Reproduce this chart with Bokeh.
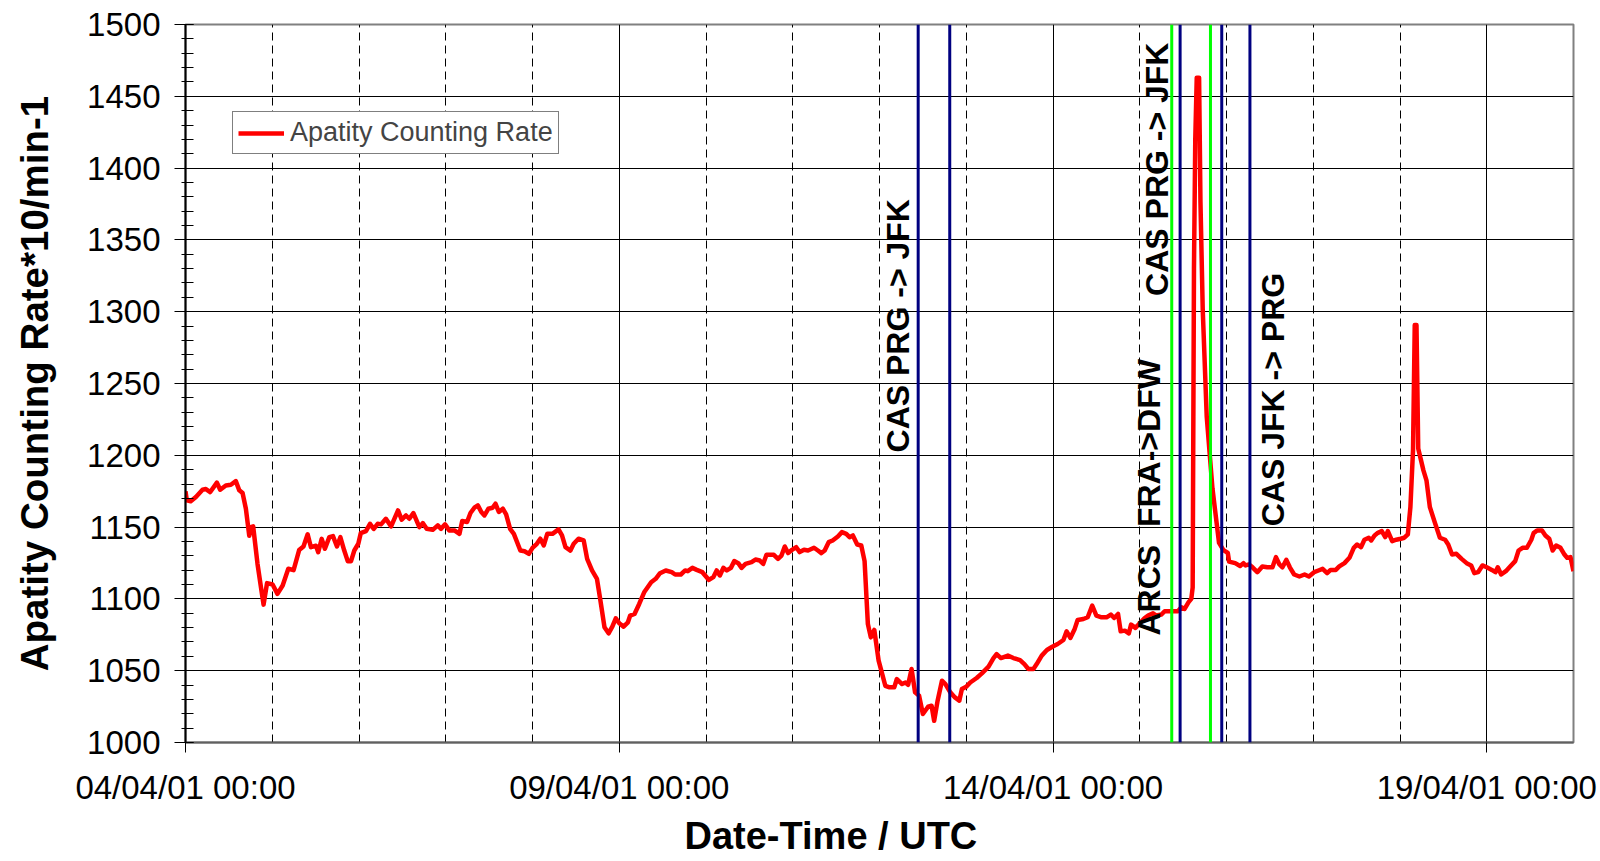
import pandas as pd
from math import pi
from bokeh.plotting import figure
from bokeh.models import (FixedTicker, DatetimeTickFormatter, Span, Title,
                          Legend, LegendItem, ColumnDataSource)
from bokeh.core.properties import value
from bokeh.embed import file_html
from bokeh.resources import INLINE

# ---------------- data ----------------
start_time = "2001-04-04 00:00"
end_time = "2001-04-20 00:00"

# days since 04/04/01 00:00 UTC
rate_days = [
    0.0, 0.015, 0.06, 0.12, 0.196, 0.235, 0.285, 0.362, 0.4, 0.465, 0.523, 0.58, 0.62, 0.658,
    0.696, 0.735, 0.754, 0.78, 0.83, 0.87, 0.9, 0.94, 1.004, 1.06, 1.12, 1.185, 1.246, 1.31,
    1.36, 1.408, 1.446, 1.504, 1.53, 1.57, 1.607, 1.658, 1.70, 1.746, 1.785, 1.83, 1.87, 1.908,
    1.946, 1.992, 2.02, 2.08, 2.127, 2.17, 2.215, 2.254, 2.31, 2.37, 2.45, 2.492, 2.542, 2.58,
    2.627, 2.696, 2.735, 2.78, 2.85, 2.908, 2.946, 2.992, 3.04, 3.1, 3.158, 3.19, 3.246, 3.285,
    3.33, 3.37, 3.41, 3.446, 3.492, 3.54, 3.573, 3.612, 3.658, 3.696, 3.742, 3.785, 3.86, 3.908,
    3.958, 4.0, 4.05, 4.09, 4.13, 4.17, 4.23, 4.30, 4.34, 4.38, 4.437, 4.475, 4.53, 4.59, 4.63,
    4.686, 4.743, 4.78, 4.83, 4.877, 4.92, 4.96, 5.0, 5.05, 5.1, 5.126, 5.176, 5.23, 5.287,
    5.368, 5.42, 5.47, 5.536, 5.605, 5.644, 5.71, 5.76, 5.79, 5.843, 5.893, 5.958, 5.99, 6.034,
    6.084, 6.123, 6.16, 6.2, 6.24, 6.287, 6.326, 6.372, 6.41, 6.456, 6.525, 6.57, 6.62, 6.66,
    6.697, 6.782, 6.83, 6.87, 6.908, 6.946, 6.992, 7.04, 7.08, 7.13, 7.176, 7.245, 7.29, 7.33,
    7.368, 7.414, 7.46, 7.52, 7.567, 7.617, 7.655, 7.693, 7.743, 7.79, 7.828, 7.866, 7.9, 7.94,
    7.99, 8.03, 8.067, 8.116, 8.17, 8.2, 8.26, 8.3, 8.33, 8.37, 8.41, 8.457, 8.5, 8.56, 8.6,
    8.63, 8.67, 8.72, 8.76, 8.816, 8.87, 8.92, 8.95, 9.0, 9.046, 9.12, 9.18, 9.257, 9.314, 9.35,
    9.4, 9.48, 9.544, 9.62, 9.67, 9.716, 9.774, 9.812, 9.87, 9.93, 9.992, 10.054, 10.12, 10.157,
    10.2, 10.25, 10.284, 10.35, 10.4, 10.452, 10.5, 10.56, 10.617, 10.667, 10.705, 10.75, 10.78,
    10.828, 10.874, 10.9, 10.95, 11.0, 11.057, 11.096, 11.153, 11.19, 11.25, 11.287, 11.364,
    11.44, 11.48, 11.517, 11.563, 11.594, 11.61, 11.625, 11.64, 11.657, 11.684, 11.7, 11.726,
    11.772, 11.838, 11.888, 11.914, 11.965, 12.015, 12.03, 12.1, 12.157, 12.196, 12.22, 12.26,
    12.3, 12.355, 12.413, 12.47, 12.53, 12.57, 12.61, 12.645, 12.69, 12.73, 12.78, 12.84, 12.9,
    12.95, 13.01, 13.06, 13.108, 13.16, 13.2, 13.26, 13.3, 13.36, 13.417, 13.467, 13.506, 13.55,
    13.59, 13.64, 13.668, 13.707, 13.745, 13.79, 13.83, 13.86, 13.91, 13.957, 14.008, 14.05,
    14.09, 14.12, 14.15, 14.17, 14.19, 14.21, 14.27, 14.305, 14.344, 14.4, 14.46, 14.52, 14.556,
    14.6, 14.65, 14.71, 14.768, 14.82, 14.857, 14.9, 14.95, 15.0, 15.058, 15.1, 15.127, 15.166,
    15.22, 15.27, 15.328, 15.367, 15.413, 15.463, 15.514, 15.54, 15.58, 15.637, 15.676, 15.72,
    15.76, 15.8, 15.85, 15.896, 15.927, 15.965, 16.0,
]
rate_values = [
    1175, 1168.6, 1168, 1171, 1176, 1176.5, 1174.4, 1181, 1176, 1179, 1179.5, 1182, 1175.6, 1173.7,
    1162.8, 1144, 1150, 1150.5, 1124.4, 1108, 1096, 1111, 1110, 1103.5, 1109.3, 1121, 1120, 1134,
    1136.5, 1145, 1136, 1137, 1132.5, 1141.8, 1134.9, 1143, 1143.7, 1136.5, 1143, 1133.7, 1126.3, 1126.3,
    1133.7, 1138.4, 1145.8, 1147.2, 1152.3, 1148.8, 1152.3, 1151.9, 1155.8, 1150.5, 1161.6, 1155.1, 1158.1, 1155.8,
    1159.8, 1150, 1152.8, 1148.8, 1148.1, 1151.2, 1148.8, 1151.9, 1147.7, 1147.7, 1145.3, 1154.2, 1153.5, 1159.8,
    1163.5, 1165.1, 1160.5, 1158.1, 1162.8, 1163.5, 1166.3, 1160.5, 1162.8, 1158.8, 1148.8, 1145.3, 1133.7, 1133.2,
    1131.4, 1135.5, 1138.4, 1141.9, 1137.2, 1145.3, 1145.3, 1148.4, 1144.2, 1136, 1133.7, 1138.4, 1141.9, 1140.7, 1127.9,
    1119.8, 1114, 1100, 1080.2, 1076, 1080.7, 1086.5, 1083, 1080.7, 1083.7, 1088.4, 1089.5, 1096.5, 1104.6,
    1111.6, 1114, 1117.9, 1119.8, 1118.6, 1117, 1117, 1119.8, 1119.3, 1121.6, 1120.2, 1118.6, 1116.3, 1113.2,
    1115.1, 1119.8, 1116.3, 1121.6, 1119.8, 1121.6, 1126.3, 1124.9, 1121.6, 1124.4, 1125.6, 1127.4, 1126.7, 1124.4,
    1130.7, 1130.7, 1127.9, 1130.2, 1136.5, 1131.9, 1134.2, 1136, 1132.6, 1134.2, 1133.7, 1135.6, 1133.7, 1131.9,
    1133.7, 1139.5, 1140.7, 1143.5, 1146.5, 1145.3, 1143, 1144.2, 1137.9, 1137.2, 1126.3, 1082.5, 1073.2, 1078.4,
    1057, 1048, 1039.5, 1038.4, 1038.4, 1044.2, 1040.7, 1041.8, 1040.2, 1051.2, 1034.9, 1032.5, 1019.8, 1024.9, 1025.6,
    1015.1, 1029.1, 1043, 1040.7, 1034.9, 1031.4, 1029.1, 1037.2, 1038.8, 1041.8, 1044.9, 1048.1, 1052.8, 1058.8, 1061.6,
    1058.8, 1060.5, 1058.8, 1057.4, 1054.6, 1051.2, 1051.2, 1054.6, 1060.5, 1064.4, 1066.7, 1068.6, 1071.4, 1077.4,
    1072.8, 1079.1, 1085.3, 1086, 1087.2, 1095.3, 1088.4, 1087.2, 1087.2, 1089.1, 1086.7, 1089.5, 1077.4,
    1077.9, 1076, 1082.1, 1079.8, 1083, 1086.7, 1088.4, 1090, 1088.4, 1089.1, 1091.4, 1091.4,
    1091.4, 1094.2, 1093, 1097.7, 1100, 1108, 1330, 1420, 1463, 1463, 1376, 1301.5,
    1227, 1177, 1152, 1139, 1134, 1132, 1126, 1124.9, 1122.9, 1124.9, 1123.3, 1124,
    1122, 1118.6, 1122.6, 1122, 1122, 1129.1, 1124, 1122, 1127.2, 1122, 1117, 1115.6, 1117,
    1115.6, 1118.6, 1119.8, 1120.9, 1117.9, 1120.2, 1120.2, 1122.6, 1124.9, 1128.6, 1135.6, 1137.9, 1136,
    1141.2, 1142.6, 1140.7, 1144.2, 1146, 1147.2, 1143, 1147.2, 1140.2, 1141.2, 1141.9, 1142.6,
    1144.9, 1164, 1203.5, 1290.7, 1290.7, 1204.7, 1189.5, 1182.6, 1164, 1153.5, 1142.6, 1141.2, 1137.9,
    1130.9, 1131.4, 1127.9, 1124.9, 1123.3, 1117.9, 1118.6, 1123.3, 1122, 1120.2, 1118.6, 1122, 1117,
    1119.3, 1122.6, 1126.3, 1133.7, 1135.6, 1135.6, 1141.2, 1145.8, 1147.7, 1147.7, 1144.2, 1141.9,
    1133.7, 1137.2, 1135.6, 1130.9, 1128.6, 1129.1, 1119.3,
]

x_tick_dates = ["2001-04-04", "2001-04-09", "2001-04-14", "2001-04-19"]
x_tick_format = "%d/%m/%y %H:%M"
y_ticks = [1000, 1050, 1100, 1150, 1200, 1250, 1300, 1350, 1400, 1450, 1500]

flight_lines = ["2001-04-12 10:42", "2001-04-12 19:26", "2001-04-15 11:10",
                "2001-04-15 22:41", "2001-04-16 06:29"]
arcs_lines = ["2001-04-15 08:51", "2001-04-15 19:34"]

note_texts = ["CAS PRG -> JFK", "ARCS \u00a0FRA->DFW", "CAS PRG -> JFK", "CAS JFK -> PRG"]
note_times = ["2001-04-12 05:03", "2001-04-15 02:33", "2001-04-15 04:44", "2001-04-16 12:52"]
note_values = [1202, 1074.5, 1311, 1150.6]

series_label = "Apatity Counting Rate"
x_title = "Date-Time / UTC"
y_title = "Apatity Counting Rate*10/min-1"


def ms(s):
    return pd.Timestamp(s).value / 1e6


t0 = pd.Timestamp(start_time)
times = [t0 + pd.Timedelta(days=d) for d in rate_days]
src = ColumnDataSource(dict(t=times, v=rate_values))

major_ms = [ms(d) for d in x_tick_dates]
n_days = int(round((ms(end_time) - ms(start_time)) / 86400000))
minor_ms = [ms(start_time) + k * 86400000 for k in range(n_days + 1)]
minor_ms = [m for m in minor_ms if m not in major_ms]
y_minor = list(range(y_ticks[0], y_ticks[-1] + 1, 10))

FONT = "Liberation Sans"

p = figure(width=1600, height=861, x_axis_type="datetime",
           x_range=(ms(start_time), ms(end_time)), y_range=(y_ticks[0], y_ticks[-1]),
           output_backend="svg", toolbar_location=None,
           min_border_left=185, min_border_right=27, min_border_top=24, min_border_bottom=119)
p.background_fill_color = "white"
p.border_fill_color = "white"
p.outline_line_color = "#808080"
p.outline_line_width = 2

# x axis
xa = p.xaxis[0]
xa.ticker = FixedTicker(ticks=major_ms, minor_ticks=minor_ms)
xa.formatter = DatetimeTickFormatter(
    microseconds=x_tick_format, milliseconds=x_tick_format, seconds=x_tick_format,
    minsec=x_tick_format, minutes=x_tick_format, hourmin=x_tick_format, hours=x_tick_format,
    days=x_tick_format, months=x_tick_format, years=x_tick_format)
xa.major_label_text_font = FONT
xa.major_label_text_font_size = "33px"
xa.major_label_text_color = "black"
xa.major_tick_out = 10
xa.major_tick_in = 0
xa.minor_tick_out = 0
xa.minor_tick_in = 0
xa.major_tick_line_color = "black"
xa.axis_line_color = "#606060"
xa.axis_line_width = 2
xa.major_label_standoff = 16

# y axis
ya = p.yaxis[0]
ya.ticker = FixedTicker(ticks=y_ticks, minor_ticks=y_minor)
ya.major_label_text_font = FONT
ya.major_label_text_font_size = "33px"
ya.major_label_text_color = "black"
ya.major_tick_out = 11
ya.major_tick_in = 8
ya.minor_tick_out = 4
ya.minor_tick_in = 8
ya.major_tick_line_color = "black"
ya.minor_tick_line_color = "black"
ya.axis_line_color = "black"
ya.axis_line_width = 2
ya.major_label_standoff = 14
ya.axis_label = y_title
ya.axis_label_text_font = FONT
ya.axis_label_text_font_style = "bold"
ya.axis_label_text_font_size = "38.5px"
ya.axis_label_text_color = "black"
ya.axis_label_standoff = 28

# grids
p.xgrid.grid_line_color = "black"
p.xgrid.grid_line_width = 1
p.xgrid.minor_grid_line_color = "black"
p.xgrid.minor_grid_line_width = 1
p.xgrid.minor_grid_line_dash = "8 5"
p.ygrid.grid_line_color = "black"
p.ygrid.grid_line_width = 1

# data line
r = p.line(x="t", y="v", source=src, line_color="#FF0000", line_width=4.5, line_join="round")

# annotations (rotated texts)
p.text(x=[ms(t) for t in note_times], y=note_values, text=note_texts, angle=pi / 2,
       text_font=value(FONT), text_font_style="bold", text_font_size="32px",
       text_align="left", text_baseline="middle", text_color="black")

# event lines
for t in arcs_lines:
    p.add_layout(Span(location=ms(t), dimension="height", line_color="#00FF00", line_width=3))
for t in flight_lines:
    p.add_layout(Span(location=ms(t), dimension="height", line_color="#000080", line_width=3))

# legend
legend = Legend(items=[LegendItem(label=series_label, renderers=[r])], location=(47, 588),
                label_text_font=FONT, label_text_font_size="27px", glyph_width=46,
                glyph_height=20, label_standoff=6, padding=5, margin=0, spacing=0,
                border_line_color="black", border_line_width=1,
                background_fill_color="white", background_fill_alpha=1)
p.add_layout(legend)

# x axis title
p.add_layout(Title(text=x_title, align="left", offset=499, vertical_align="bottom", standoff=8,
                   text_font=FONT, text_font_style="bold", text_font_size="38px",
                   text_color="black"), "below")

open("out.html", "w").write(file_html(p, INLINE))
